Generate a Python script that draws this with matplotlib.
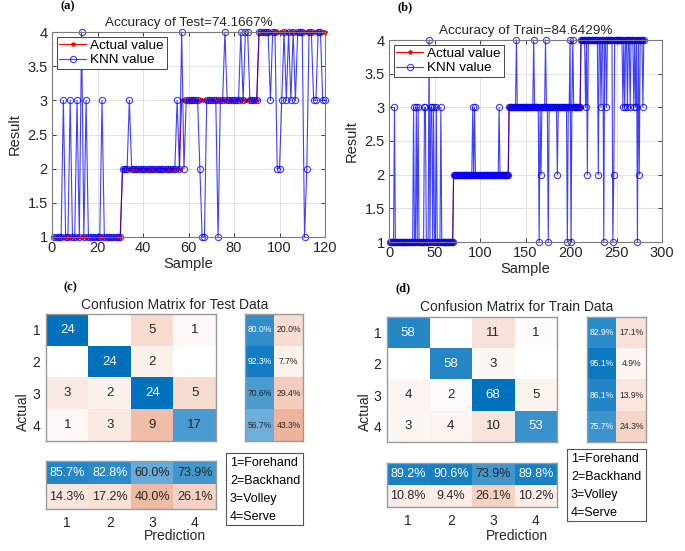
import numpy as np
import matplotlib.pyplot as plt

plt.rcParams['font.family'] = ['Liberation Sans', 'DejaVu Sans']

W, H = 685, 551

classes = [1, 2, 3, 4]
class_names = ['Forehand', 'Backhand', 'Volley', 'Serve']

# test set: number of samples in each class (in order), and the samples KNN got wrong -> predicted class
test_counts = [30, 26, 34, 30]
test_wrong = {5: 3, 8: 3, 11: 3, 13: 4, 15: 3, 22: 3,
              34: 3, 55: 3,
              57: 4, 58: 2, 65: 2, 66: 1, 67: 1, 73: 1, 76: 4, 83: 4, 85: 4, 86: 4,
              96: 3, 99: 2, 100: 2, 101: 3, 103: 3, 105: 3, 107: 3, 111: 1, 112: 2,
              115: 3, 116: 3, 119: 3, 120: 3}

# train set
train_counts = [70, 61, 79, 70]
train_wrong = {6: 3, 27: 3, 30: 3, 32: 3, 39: 3, 40: 3, 44: 4, 46: 3, 47: 3, 49: 3, 52: 3, 57: 3,
               92: 3, 94: 3, 121: 3,
               140: 4, 159: 4, 165: 1, 167: 2, 172: 4, 175: 1, 185: 2, 196: 1, 199: 4, 200: 1, 202: 4,
               216: 3, 218: 2, 230: 2, 233: 3, 236: 1, 239: 3, 246: 1, 247: 2, 257: 3, 259: 3,
               262: 3, 265: 3, 269: 3, 271: 3, 273: 1, 275: 2, 279: 3}


def make_series(counts, wrong):
    actual = np.repeat(classes, counts)
    knn = actual.copy()
    for s, p in wrong.items():
        knn[s - 1] = p
    return actual, knn


def confusion(actual, knn):
    cm = np.zeros((4, 4), dtype=int)
    for a, p in zip(actual, knn):
        cm[a - 1, p - 1] += 1
    return cm


test_actual, test_knn = make_series(test_counts, test_wrong)
train_actual, train_knn = make_series(train_counts, train_wrong)

fig = plt.figure(figsize=(6.85, 5.51), dpi=100)


def px(l, t, r, b):
    return [l / W, 1 - b / H, (r - l) / W, (b - t) / H]


def ftext(x, y, s, **kw):
    fig.text(x / W, 1 - y / H, s, **kw)


dark = '#262626'


def line_panel(box, actual, knn, xmax, title):
    ax = fig.add_axes(px(*box))
    x = np.arange(1, len(actual) + 1)
    ax.plot(x, actual, '-', color='red', marker='*', ms=3, lw=0.8, label='Actual value',
            clip_on=False)
    ax.plot(x, knn, '-', color='blue', marker='o', mfc='none', ms=4.5, mew=0.8, lw=0.8,
            alpha=0.75, label='KNN value', clip_on=False)
    ax.set_xlim(0, xmax)
    ax.set_ylim(1, 4)
    ax.set_yticks(np.arange(1, 4.01, 0.5))
    ax.set_yticklabels(['1', '1.5', '2', '2.5', '3', '3.5', '4'])
    ax.grid(True, color='#dedede', lw=0.6)
    ax.set_axisbelow(True)
    ax.tick_params(direction='in', top=True, right=True, labelsize=10.5, colors=dark,
                   length=3, width=0.6, pad=3)
    for s in ax.spines.values():
        s.set_color('#7a7a7a')
        s.set_linewidth(0.8)
    ax.set_xlabel('Sample', fontsize=10.5, color=dark, labelpad=1)
    ax.set_ylabel('Result', fontsize=10.5, color=dark, labelpad=4)
    ax.set_title(title, fontsize=9.7, color=dark, pad=4)
    leg = ax.legend(loc='upper left', fontsize=9.7, fancybox=False, edgecolor=dark,
                    framealpha=1, borderaxespad=0.35, borderpad=0.2, labelspacing=0.15,
                    handlelength=2.0, handletextpad=0.3)
    leg.get_frame().set_linewidth(0.6)
    return ax


line_panel((52, 32, 325, 237), test_actual, test_knn, 120, 'Accuracy of Test=74.1667%')
line_panel((389, 40, 662, 242), train_actual, train_knn, 300, 'Accuracy of Train=84.6429%')

ftext(68, 6, '(a)', family='Liberation Serif', weight='bold', fontsize=9, ha='center', va='center')
ftext(405, 7, '(b)', family='Liberation Serif', weight='bold', fontsize=9, ha='center', va='center')

blue = np.array([0, 114, 189]) / 255
orange = np.array([217, 83, 25]) / 255


def shade(c, a):
    return 1 - a * (1 - c)


def style_box(ax):
    ax.tick_params(length=0, labelsize=10, colors=dark)
    for s in ax.spines.values():
        s.set_color('#9a9a9a')
        s.set_linewidth(1.0)


def cm_panel(cm, main, rowb, colb, legb, title, letter, letter_xy, title_y, act_x):
    thr = 0.745
    # main matrix
    ax = fig.add_axes(px(*main))
    rgb = np.ones((4, 4, 3))
    vmax = cm.max()
    for i in range(4):
        for j in range(4):
            a = cm[i, j] / vmax
            rgb[i, j] = shade(blue if i == j else orange, a)
            if cm[i, j] > 0:
                ax.text(j + 1, i + 1, str(cm[i, j]), ha='center', va='center', fontsize=9.5,
                        color='white' if a > thr else dark)
    ax.imshow(rgb, extent=(0.5, 4.5, 4.5, 0.5), aspect='auto', interpolation='nearest')
    ax.set_xticks([])
    ax.set_yticks(classes)
    ax.set_yticklabels([str(c) for c in classes])
    style_box(ax)
    ax.tick_params(axis='y', pad=4)

    # row summary
    recall = np.diag(cm) / cm.sum(axis=1) * 100
    axr = fig.add_axes(px(*rowb))
    rgb = np.ones((4, 2, 3))
    for i in range(4):
        vals = [recall[i], 100 - recall[i]]
        for j, c in enumerate([blue, orange]):
            a = vals[j] / 100
            rgb[i, j] = shade(c, a)
            axr.text(j + 1, i + 1, '%.1f%%' % vals[j], ha='center', va='center', fontsize=6.2,
                     color='white' if a > thr else dark)
    axr.imshow(rgb, extent=(0.5, 2.5, 4.5, 0.5), aspect='auto', interpolation='nearest')
    axr.set_xticks([])
    axr.set_yticks([])
    style_box(axr)

    # column summary
    prec = np.diag(cm) / cm.sum(axis=0) * 100
    axc = fig.add_axes(px(*colb))
    rgb = np.ones((2, 4, 3))
    for j in range(4):
        vals = [prec[j], 100 - prec[j]]
        for i, c in enumerate([blue, orange]):
            a = vals[i] / 100
            rgb[i, j] = shade(c, a)
            axc.text(j + 1, i + 1, '%.1f%%' % vals[i], ha='center', va='center', fontsize=9,
                     color='white' if a > thr else dark)
    axc.imshow(rgb, extent=(0.5, 4.5, 2.5, 0.5), aspect='auto', interpolation='nearest')
    axc.set_xticks(classes)
    axc.set_xticklabels([str(c) for c in classes])
    axc.set_yticks([])
    style_box(axc)
    axc.tick_params(axis='x', pad=5)

    # class name box
    axl = fig.add_axes(px(*legb))
    axl.set_xticks([])
    axl.set_yticks([])
    for s in axl.spines.values():
        s.set_color('#555555')
        s.set_linewidth(0.8)
    for k, name in enumerate(class_names):
        ftext(legb[0] + 4, legb[1] + 10 + 18 * k, '%d=%s' % (classes[k], name),
              fontsize=9, color='black', va='center')

    cx = (main[0] + rowb[2]) / 2
    ftext(cx, title_y, title, fontsize=10, color=dark, ha='center', va='center')
    ftext(cx, 536, 'Prediction', fontsize=10, color=dark, ha='center', va='center')
    ftext(act_x, (main[1] + colb[3]) / 2, 'Actual', fontsize=10, color=dark,
          ha='center', va='center', rotation=90)
    ftext(letter_xy[0], letter_xy[1], letter, family='Liberation Serif', weight='bold',
          fontsize=9, ha='center', va='center')


cm_panel(confusion(test_actual, test_knn),
         (46, 314, 216, 441), (245, 314, 303, 441), (46, 461, 216, 509), (226, 453, 303, 525),
         'Confusion Matrix for Test Data', '(c)', (70, 287), 305, 23)
cm_panel(confusion(train_actual, train_knn),
         (387, 317, 557, 442), (587, 317, 646, 442), (387, 463, 557, 507), (567, 449, 646, 521),
         'Confusion Matrix for Train Data', '(d)', (403, 288), 307, 365)

fig.savefig('out.png', dpi=100)
